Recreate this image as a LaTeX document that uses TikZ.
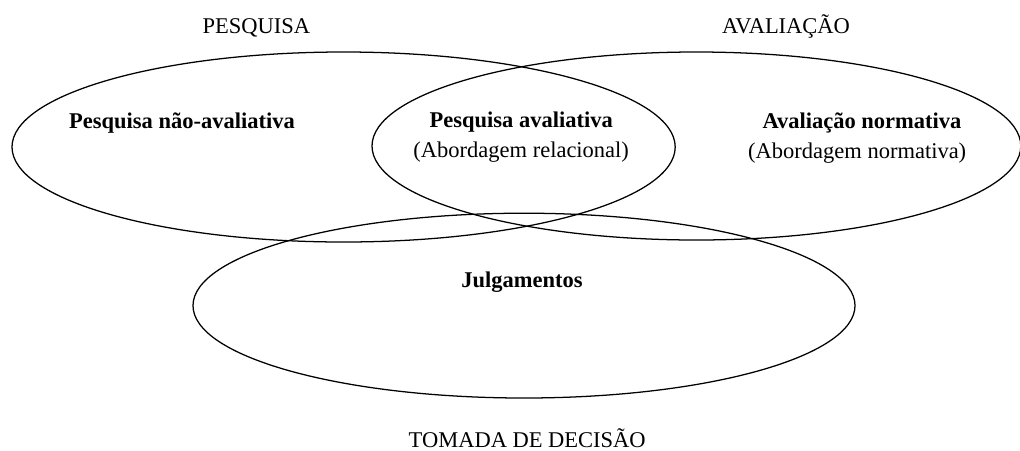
\documentclass[tikz,border=0pt]{standalone}
\usepackage{fontspec}
\setmainfont{Liberation Serif}
\usetikzlibrary{positioning}

\begin{document}
\begin{tikzpicture}[
    every path/.style={line width=0.9pt},
    areatext/.style={font=\fontsize{16}{21}\selectfont, anchor=base},
    fieldtext/.style={font=\fontsize{16}{21}\selectfont\bfseries, anchor=base},
    approach/.style={font=\fontsize{16}{21}\selectfont, anchor=base}]
  \useasboundingbox (0,0) rectangle (25.5,-11.25);

  % the three areas
  \draw (8.59,-3.675) ellipse [x radius=8.29, y radius=2.375];
  \draw (17.41,-3.65) ellipse [x radius=8.11, y radius=2.35];
  \draw (13.1,-7.64) ellipse [x radius=8.275, y radius=2.31];

  \node[areatext] (pesquisa) at (6.41,-0.825) {PESQUISA};
  \node[areatext] (avaliacao) at (19.65,-0.825) {AVALIAÇÃO};
  \node[areatext] (decisao) at (13.18,-11.175) {TOMADA DE DECISÃO};

  \node[fieldtext] (naoaval) at (4.55,-3.2) {Pesquisa não-avaliativa};
  \node[fieldtext] (aval) at (13.03,-3.175) {Pesquisa avaliativa};
  \node[approach] (relacional) at ([yshift=-0.75cm]aval.base) {(Abordagem relacional)};
  \node[fieldtext] (normativa) at (21.55,-3.2) {Avaliação normativa};
  \node[approach] (abnormativa) at ([xshift=-0.12cm,yshift=-0.75cm]normativa.base) {(Abordagem normativa)};
  \node[fieldtext] (julgamentos) at (13.05,-7.175) {Julgamentos};
\end{tikzpicture}
\end{document}
